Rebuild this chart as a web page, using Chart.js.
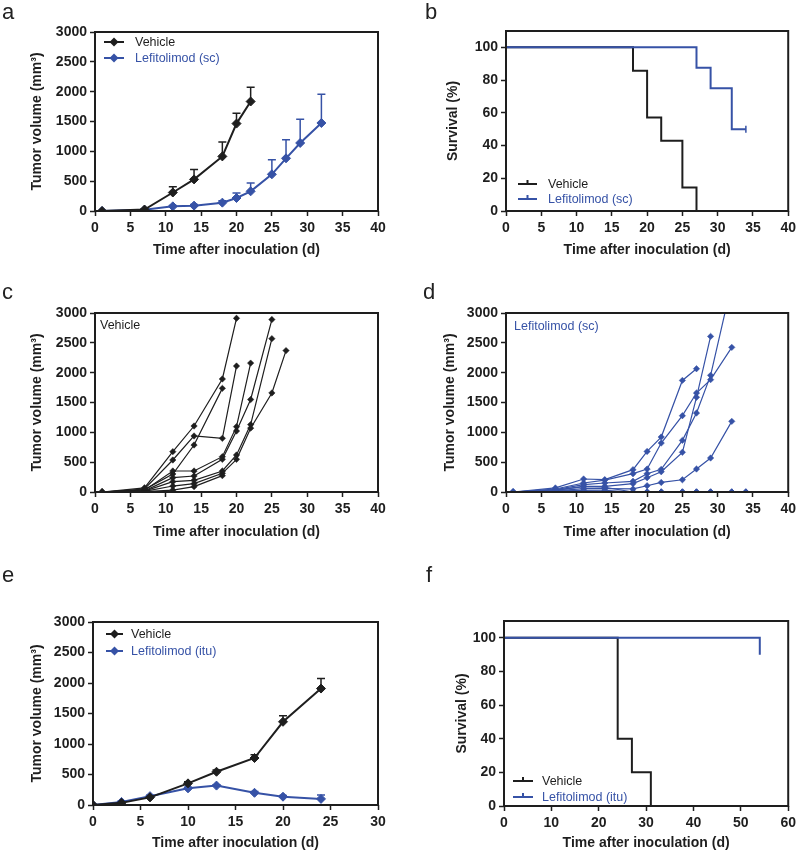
<!DOCTYPE html>
<html>
<head>
<meta charset="utf-8">
<script src="https://cdn.jsdelivr.net/npm/chart.js@4.4.0/dist/chart.umd.min.js"></script>
<style>
body { margin: 0; background: #fff; width: 800px; height: 854px; position: relative; overflow: hidden;
       font-family: 'Liberation Sans', Arial, Helvetica, sans-serif; }
canvas { position: absolute; }
.txt { position: absolute; white-space: nowrap; }
.letter { font-size: 22px; line-height: 22px; color: #222; }
.leg { font-size: 12.5px; line-height: 16px; }
</style>
</head>
<body>
<script>
const INK = '#1e1e1e';
const BLUE = '#3652a6';
const FONT = "'Liberation Sans', Arial, Helvetica, sans-serif";

// tick labels
const volTicks = [0, 500, 1000, 1500, 2000, 2500, 3000];
const survTicks = [0, 20, 40, 60, 80, 100];
const dayTicks40 = [0, 5, 10, 15, 20, 25, 30, 35, 40];
const dayTicks30 = [0, 5, 10, 15, 20, 25, 30];
const dayTicks60 = [0, 10, 20, 30, 40, 50, 60];

// a: mean tumor volume (sc)
const daysA = [1, 7, 11, 14, 18, 20, 22, 25, 27, 29, 32];
const vehicleA = [0, 25, 310, 530, 915, 1465, 1835];
const vehicleAErr = [0, 10, 95, 165, 240, 175, 240];
const lefA = [0, 20, 78, 90, 140, 218, 330, 615, 883, 1140, 1475];
const lefAErr = [0, 5, 15, 20, 30, 84, 139, 245, 313, 396, 480];

// b: survival (sc)
const vehTimesB = [0, 18, 20, 22, 25, 27];
const vehSurvB = [100, 85.7, 57.1, 42.9, 14.3, 0];
const lefTimesB = [0, 27, 29, 32, 34];
const lefSurvB = [100, 87.5, 75, 50, 50];

// c: vehicle, single mice
const daysC = [1, 7, 11, 14, 18, 20, 22, 25, 27];
const vehMouse1 = [0, 70, 676, 1106, 1894, 2911];
const vehMouse2 = [0, 50, 536, 939, 899, 2111];
const vehMouse3 = [0, 40, 302, 788, 1737];
const vehMouse4 = [0, 30, 352, 352, 592, 1095, 2160];
const vehMouse5 = [0, 20, 240, 268, 547, 1022, 1550, 2890];
const vehMouse6 = [0, 15, 173, 196, 352, 620, 1130, 2570];
const vehMouse7 = [0, 10, 100, 140, 313, 547, 1070, 1660, 2370];
const vehMouse8 = [0, 5, 33, 90, 274];

// d: lefitolimod (sc), single mice
const daysD = [1, 7, 11, 14, 18, 20, 22, 25, 27, 29, 32, 34];
const lefMouse1 = [0, 68, 218, 207, 374, 680, 921, 1870, 2066];
const lefMouse2 = [0, 50, 151, 200, 307, 385, 820, 1279, 1659, 1883, 2424];
const lefMouse3 = [0, 40, 123, 151, 179, 307, 380, 865, 1323, 1955, 3500];
const lefMouse4 = [0, 30, 95, 95, 140, 240, 340, 665, 1587, 2608];
const lefMouse5 = [0, 20, 56, 56, 51, 105, 160, 205, 385, 570, 1184];
const lefMouse6 = [0, 25, 90, 80, 0, 0, 0, 0, 0, 0, 0, 0];
const lefMouse7 = [0, 15, 29, 29, 0, 0, 0, 0, 0, 0, 0, 0];
const lefMouse8 = [0, 10, 20, 10, 0, 0, 0, 0, 0, 0, 0, 0];

// e: mean tumor volume (itu)
const daysE = [0, 3, 6, 10, 13, 17, 20, 24];
const vehicleE = [0, 35, 125, 355, 545, 770, 1364, 1909];
const vehicleEErr = [0, 10, 15, 25, 30, 55, 100, 165];
const lefE = [0, 50, 145, 273, 318, 200, 136, 100];
const lefEErr = [0, 15, 15, 20, 15, 20, 20, 64];

// f: survival (itu)
const vehTimesF = [0, 24, 27, 31];
const vehSurvF = [100, 40, 20, 0];
const lefTimesF = [0, 54];
const lefSurvF = [100, 90];

function toXY(days, vals) {
  return vals.map((v, i) => ({x: days[i], y: v}));
}

function meanSet(days, vals, errs, color) {
  return {data: toXY(days, vals), errors: errs, borderColor: color, backgroundColor: color,
    borderWidth: 2, pointStyle: 'rectRot', pointRadius: 4.5, pointBorderWidth: 1, pointBorderColor: color};
}
function mouseSet(days, vals, color) {
  return {data: toXY(days, vals), borderColor: color, backgroundColor: color,
    borderWidth: 1.2, pointStyle: 'rectRot', pointRadius: 3.2, pointBorderWidth: 0.5, pointBorderColor: color};
}
function survSet(times, vals, color, censorLast, order) {
  const radius = vals.map((v, i) => (censorLast && i === vals.length - 1) ? 3.5 : 0);
  return {data: toXY(times, vals), borderColor: color, backgroundColor: color, borderWidth: 2,
    stepped: 'before', pointStyle: 'line', pointRotation: 90, pointRadius: radius,
    pointBorderWidth: 1.5, pointBorderColor: color, order: order};
}

// full box round the plot area
const framePlugin = {
  id: 'frame',
  afterDatasetsDraw(chart) {
    const {ctx, chartArea: a} = chart;
    ctx.save();
    ctx.strokeStyle = INK;
    ctx.lineWidth = 2;
    ctx.strokeRect(a.left, a.top, a.right - a.left, a.bottom - a.top);
    ctx.restore();
  }
};

// upper error bars, from dataset.errors
const errorBarPlugin = {
  id: 'errbars',
  beforeDatasetsDraw(chart) {
    const {ctx, scales: {x, y}} = chart;
    chart.data.datasets.forEach(ds => {
      if (!ds.errors) return;
      ctx.save();
      ctx.strokeStyle = ds.borderColor;
      ctx.lineWidth = 1.5;
      ds.data.forEach((p, i) => {
        const e = ds.errors[i];
        if (!e) return;
        const px = x.getPixelForValue(p.x);
        const y0 = y.getPixelForValue(p.y);
        const y1 = y.getPixelForValue(p.y + e);
        ctx.beginPath();
        ctx.moveTo(px, y0); ctx.lineTo(px, y1);
        ctx.moveTo(px - 4, y1); ctx.lineTo(px + 4, y1);
        ctx.stroke();
      });
      ctx.restore();
    });
  }
};

function axisOpts(tickVals, min, max, title, titlePad, isX, size) {
  return {
    type: 'linear', min: min, max: max,
    afterBuildTicks: s => { s.ticks = tickVals.map(v => ({value: v})); },
    afterFit: s => { if (isX) s.height = size; else s.width = size; },
    grid: {display: true, drawOnChartArea: false, drawTicks: true, tickLength: 5,
           tickWidth: 1.5, tickColor: INK},
    border: {display: false},
    ticks: {color: INK, font: {family: FONT, size: 14, weight: 'bold'}, padding: isX ? 4 : 3,
            autoSkip: false, maxRotation: 0, callback: v => String(v)},
    title: {display: true, text: title, color: INK,
            font: {family: FONT, size: 14, weight: 'bold'},
            padding: isX ? {top: 0, bottom: titlePad} : {top: titlePad, bottom: 0}}
  };
}

function makePanel(box, area, titleX, titleY, xTicks, yMax, yTicks, xTitle, yTitle, datasets) {
  const cv = document.createElement('canvas');
  cv.width = box.w; cv.height = box.h;
  cv.style.left = box.left + 'px'; cv.style.top = box.top + 'px';
  cv.style.width = box.w + 'px'; cv.style.height = box.h + 'px';
  document.body.appendChild(cv);
  const half = 14 * 1.2 / 2;
  return new Chart(cv, {
    type: 'line',
    data: {datasets: datasets},
    options: {
      responsive: false, animation: false, devicePixelRatio: 1,
      layout: {padding: {top: area.t - box.top, right: box.left + box.w - area.r, left: 0, bottom: 0}},
      plugins: {legend: {display: false}, tooltip: {enabled: false}},
      scales: {
        x: axisOpts(xTicks, xTicks[0], xTicks[xTicks.length - 1], xTitle,
                    box.top + box.h - titleY - half, true, box.top + box.h - area.b),
        y: axisOpts(yTicks, 0, yMax, yTitle, titleX - box.left - half, false, area.l - box.left)
      }
    },
    plugins: [framePlugin, errorBarPlugin]
  });
}

const xTitle = 'Time after inoculation (d)';
const volTitle = 'Tumor volume (mm³)';
const survTitle = 'Survival (%)';

// a
makePanel({left: 0, top: 0, w: 400, h: 262}, {l: 95, r: 378, t: 32, b: 211}, 37, 250,
  dayTicks40, 3000, volTicks, xTitle, volTitle,
  [meanSet(daysA, vehicleA, vehicleAErr, INK), meanSet(daysA, lefA, lefAErr, BLUE)]);

// b
makePanel({left: 400, top: 0, w: 400, h: 262}, {l: 506, r: 791, t: 31, b: 211}, 453, 250,
  dayTicks40, 110, survTicks, xTitle, survTitle,
  [survSet(vehTimesB, vehSurvB, INK, false, 1), survSet(lefTimesB, lefSurvB, BLUE, true, 0)]);

// c
makePanel({left: 0, top: 270, w: 400, h: 272}, {l: 95, r: 378, t: 313, b: 492}, 37, 532,
  dayTicks40, 3000, volTicks, xTitle, volTitle,
  [vehMouse1, vehMouse2, vehMouse3, vehMouse4, vehMouse5, vehMouse6, vehMouse7, vehMouse8]
    .map(m => mouseSet(daysC, m, INK)));

// d
makePanel({left: 400, top: 270, w: 400, h: 272}, {l: 506, r: 792, t: 313, b: 492}, 450, 532,
  dayTicks40, 3000, volTicks, xTitle, volTitle,
  [lefMouse1, lefMouse2, lefMouse3, lefMouse4, lefMouse5, lefMouse6, lefMouse7, lefMouse8]
    .map(m => mouseSet(daysD, m, BLUE)));

// e
makePanel({left: 0, top: 560, w: 400, h: 294}, {l: 93, r: 378, t: 622, b: 805}, 37, 843,
  dayTicks30, 3000, volTicks, xTitle, volTitle,
  [meanSet(daysE, vehicleE, vehicleEErr, INK), meanSet(daysE, lefE, lefEErr, BLUE)]);

// f
makePanel({left: 400, top: 560, w: 400, h: 294}, {l: 504, r: 790, t: 621, b: 806}, 462, 843,
  dayTicks60, 110, survTicks, xTitle, survTitle,
  [survSet(vehTimesF, vehSurvF, INK, false, 1), survSet(lefTimesF, lefSurvF, BLUE, false, 0)]);

// text overlays: panel letters, legends, annotations
function addText(text, cls, left, top, color) {
  const d = document.createElement('div');
  d.className = 'txt ' + cls;
  d.textContent = text;
  d.style.left = left + 'px'; d.style.top = top + 'px';
  if (color) d.style.color = color;
  document.body.appendChild(d);
}
function addMarker(x0, x1, cy, color, kind) {
  const w = x1 - x0;
  const ns = 'http://www.w3.org/2000/svg';
  const svg = document.createElementNS(ns, 'svg');
  svg.setAttribute('width', w); svg.setAttribute('height', 12);
  svg.style.position = 'absolute'; svg.style.left = x0 + 'px'; svg.style.top = (cy - 6) + 'px';
  const mid = w / 2;
  const line = document.createElementNS(ns, 'path');
  line.setAttribute('d', 'M0 6 H' + w + (kind === 'tick' ? ' M' + mid + ' 6 V2' : ''));
  line.setAttribute('stroke', color); line.setAttribute('stroke-width', 2); line.setAttribute('fill', 'none');
  svg.appendChild(line);
  if (kind === 'diamond') {
    const dm = document.createElementNS(ns, 'path');
    dm.setAttribute('d', `M${mid} 1.5 L${mid + 4.5} 6 L${mid} 10.5 L${mid - 4.5} 6 Z`);
    dm.setAttribute('fill', color);
    svg.appendChild(dm);
  }
  document.body.appendChild(svg);
}

[['a', 2, 1.4], ['b', 425, 1.4], ['c', 2, 281.4], ['d', 423, 281.4], ['e', 2, 564.4], ['f', 426, 564.4]]
  .forEach(([t, x, y]) => addText(t, 'letter', x, y));

function legendRow(x0, x1, tx, cy, color, text, kind) {
  addMarker(x0, x1, cy, color, kind);
  addText(text, 'leg', tx, cy - 8, color);
}
legendRow(104, 124, 135, 42, INK, 'Vehicle', 'diamond');
legendRow(104, 124, 135, 58, BLUE, 'Lefitolimod (sc)', 'diamond');
legendRow(518, 537, 548, 184, INK, 'Vehicle', 'tick');
legendRow(518, 537, 548, 199, BLUE, 'Lefitolimod (sc)', 'tick');
legendRow(106, 123, 131, 634, INK, 'Vehicle', 'diamond');
legendRow(106, 123, 131, 651, BLUE, 'Lefitolimod (itu)', 'diamond');
legendRow(513, 533, 542, 781, INK, 'Vehicle', 'tick');
legendRow(513, 533, 542, 797, BLUE, 'Lefitolimod (itu)', 'tick');

addText('Vehicle', 'leg', 100, 317, INK);
addText('Lefitolimod (sc)', 'leg', 514, 318, BLUE);
</script>
</body>
</html>
